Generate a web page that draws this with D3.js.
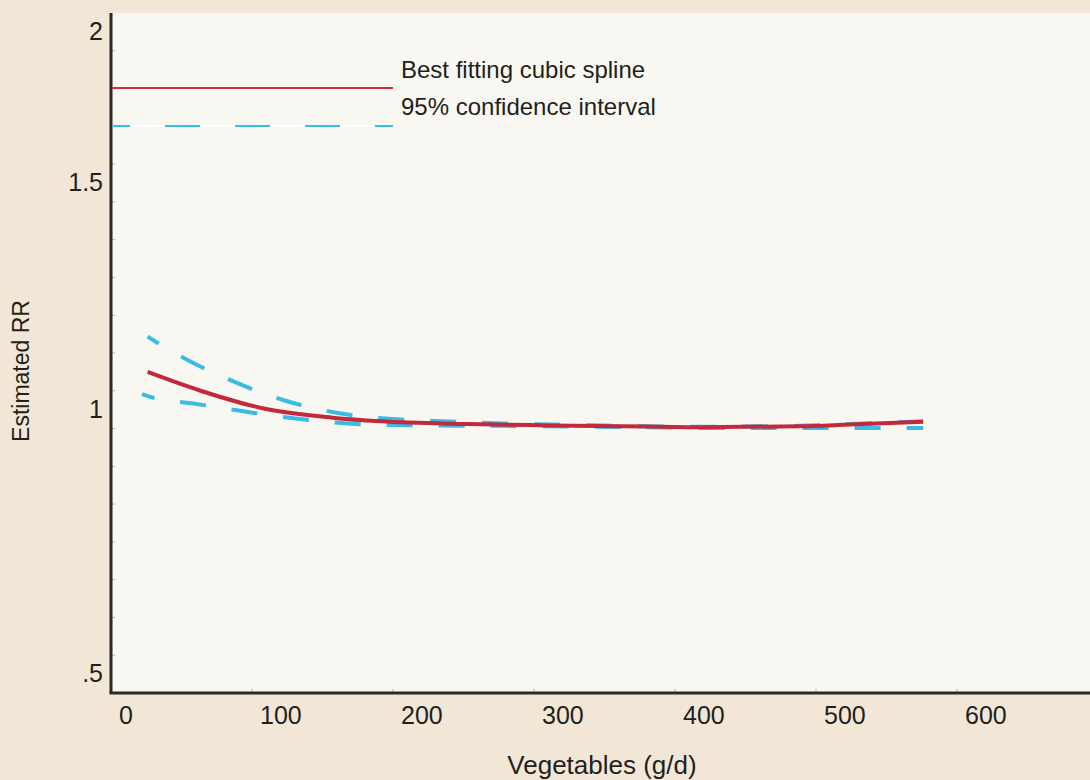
<!DOCTYPE html>
<html>
<head>
<meta charset="utf-8">
<title>Vegetables spline</title>
<script src="https://cdn.jsdelivr.net/npm/d3@7"></script>
<style>
  body { margin: 0; background: #f2e7d6; }
  text { font-family: "Liberation Sans", Arial, sans-serif; fill: #231f20; }
</style>
</head>
<body>
<div id="chart"></div>
<script>
// values (g/d -> estimated RR)
const splineX = [26, 63, 110, 157, 191, 252, 311, 389, 418, 489, 524, 576];
const splineRR = [1.125, 1.084, 1.043, 1.024, 1.016, 1.010, 1.007, 1.004, 1.003, 1.005, 1.009, 1.015];
const upperX = [26, 34, 55, 86, 122, 160, 199, 226, 262, 297, 334, 370, 418, 489, 524, 576];
const upperRR = [1.203, 1.187, 1.150, 1.105, 1.063, 1.035, 1.021, 1.0175, 1.013, 1.0095, 1.0077, 1.0055, 1.004, 1.006, 1.010, 1.016];
const lowerX = [22, 31, 57, 94, 131, 168, 191, 219, 276, 311, 382, 418, 576];
const lowerRR = [1.076, 1.067, 1.056, 1.038, 1.022, 1.011, 1.008, 1.007, 1.006, 1.005, 1.003, 1.0015, 1.0015];

const xTicks = [0, 100, 200, 300, 400, 500, 600];
const yTicks = [0.5, 1, 1.5, 2];
const yTickLabels = [".5", "1", "1.5", "2"];
const yTickSteps = [0, 7, 13, 17]; // where each label sits on the 18-step axis

const W = 1090, H = 780;
const margin = { top: 13, right: 0, bottom: 87, left: 111 };
const plotW = W - margin.left - margin.right;
const plotH = H - margin.top - margin.bottom;
const nSteps = 18;
const step = plotH / nSteps;

const svg = d3.select("#chart").append("svg")
  .attr("width", W)
  .attr("height", H);

svg.append("rect").attr("width", W).attr("height", H).attr("fill", "#f2e7d6");

const g = svg.append("g").attr("transform", `translate(${margin.left},${margin.top})`);

g.append("rect").attr("width", plotW).attr("height", plotH).attr("fill", "#f9f7f2");

const x = d3.scaleLinear().domain([0, plotW / 1.41]).range([0, plotW]);
// the axis is not evenly spaced in value, so a piecewise scale
const y = d3.scaleLinear()
  .domain(yTicks)
  .range(yTickSteps.map(s => plotH - s * step));

// small inside ticks on the y axis
g.selectAll(".ytick")
  .data(d3.range(1, nSteps))
  .join("line")
  .attr("x1", 0).attr("x2", 4)
  .attr("y1", d => plotH - d * step).attr("y2", d => plotH - d * step)
  .attr("stroke", "#b5b2ad").attr("stroke-width", 1);

g.selectAll(".xtick")
  .data(xTicks.slice(1))
  .join("line")
  .attr("x1", d => x(d)).attr("x2", d => x(d))
  .attr("y1", plotH - 4).attr("y2", plotH)
  .attr("stroke", "#b5b2ad").attr("stroke-width", 1);

// axis lines
g.append("line").attr("x1", 0).attr("x2", 0).attr("y1", 0).attr("y2", plotH)
  .attr("stroke", "#2b2826").attr("stroke-width", 3);
g.append("line").attr("x1", -1.5).attr("x2", plotW).attr("y1", plotH).attr("y2", plotH)
  .attr("stroke", "#2b2826").attr("stroke-width", 3);

// tick labels
g.selectAll(".ylab")
  .data(yTicks)
  .join("text")
  .attr("x", -8)
  .attr("y", d => y(d) - 11)
  .attr("text-anchor", "end")
  .style("font-size", "25px")
  .text((d, i) => yTickLabels[i]);

g.selectAll(".xlab")
  .data(xTicks)
  .join("text")
  .attr("x", d => x(d) + 8)
  .attr("y", plotH + 31)
  .attr("text-anchor", "start")
  .style("font-size", "25px")
  .text(d => d);

// axis titles
svg.append("text")
  .attr("x", 602).attr("y", 774)
  .attr("text-anchor", "middle")
  .style("font-size", "26px")
  .text("Vegetables (g/d)");

svg.append("text")
  .attr("transform", "translate(29,371) rotate(-90)")
  .attr("text-anchor", "middle")
  .style("font-size", "23px")
  .text("Estimated RR");

// lines
const line = d3.line()
  .x(d => x(d[0]))
  .y(d => y(d[1]))
  .curve(d3.curveMonotoneX);

const toPts = (xs, ys) => xs.map((v, i) => [v, ys[i]]);

g.append("path")
  .datum(toPts(upperX, upperRR))
  .attr("d", line)
  .attr("fill", "none")
  .attr("stroke", "#38bbe6")
  .attr("stroke-width", 4)
  .attr("stroke-dasharray", "26,26")
  .attr("stroke-dashoffset", 13);

g.append("path")
  .datum(toPts(lowerX, lowerRR))
  .attr("d", line)
  .attr("fill", "none")
  .attr("stroke", "#38bbe6")
  .attr("stroke-width", 4)
  .attr("stroke-dasharray", "26,26")
  .attr("stroke-dashoffset", 13);

g.append("path")
  .datum(toPts(splineX, splineRR))
  .attr("d", line)
  .attr("fill", "none")
  .attr("stroke", "#c4283b")
  .attr("stroke-width", 4);

// legend
const leg = svg.append("g");
leg.append("line").attr("x1", 112).attr("x2", 393).attr("y1", 88).attr("y2", 88)
  .attr("stroke", "#d8283a").attr("stroke-width", 2);
leg.append("line").attr("x1", 112).attr("x2", 393).attr("y1", 126).attr("y2", 126)
  .attr("stroke", "#ffffff").attr("stroke-width", 2);
leg.append("line").attr("x1", 112).attr("x2", 393).attr("y1", 126).attr("y2", 126)
  .attr("stroke", "#36bdec").attr("stroke-width", 2)
  .attr("stroke-dasharray", "35,35").attr("stroke-dashoffset", 17);
leg.append("text").attr("x", 401).attr("y", 78).style("font-size", "24px")
  .text("Best fitting cubic spline");
leg.append("text").attr("x", 401).attr("y", 115).style("font-size", "24px")
  .text("95% confidence interval");
</script>
</body>
</html>
